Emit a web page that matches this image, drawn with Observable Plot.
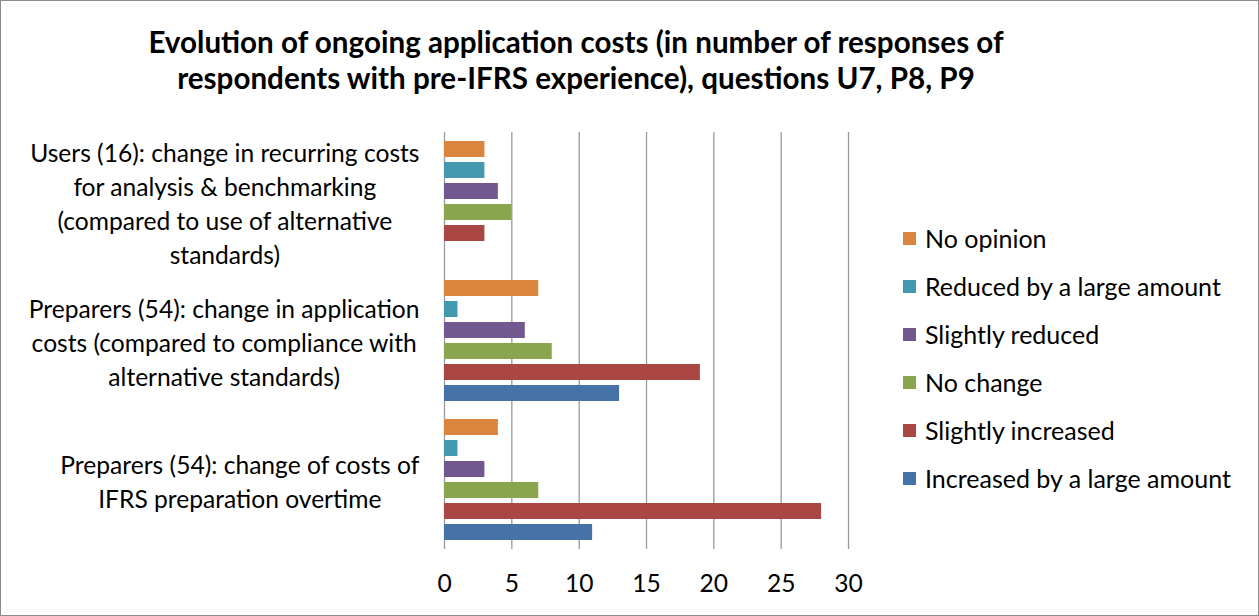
<!DOCTYPE html>
<html><head><meta charset="utf-8">
<script src="https://cdn.jsdelivr.net/npm/d3@7"></script>
<script src="https://cdn.jsdelivr.net/npm/@observablehq/plot@0.6"></script>
<style>
body{margin:0;background:#fff;}
#wrap{position:relative;width:1259px;height:616px;box-sizing:border-box;border:1px solid #8c8c8c;font-family:Lato,"Open Sans",sans-serif;color:#000;overflow:hidden;background:#fff}
#title{position:absolute;left:0;top:23px;width:1150px;text-align:center;font-weight:bold;line-height:36px;white-space:nowrap}
#chart{position:absolute;left:-1px;top:108px}
#legend{position:absolute;left:902px;top:213px}
.row{height:48px;display:flex;align-items:center;white-space:nowrap}
.sw{width:13px;height:13px;margin-right:9px;flex:none}
</style></head>
<body><div id="wrap"><div id="title"></div><div id="chart"></div><div id="legend"></div></div>
<script>
const titleLines = ["Evolution of ongoing application  costs (in number of responses of", "respondents with pre-IFRS experience), questions U7, P8, P9"];
const categories = [
  "Users (16): change in recurring costs\nfor analysis & benchmarking\n(compared to use of alternative\nstandards)",
  "Preparers (54): change in application\ncosts (compared to compliance with\nalternative standards)",
  "Preparers (54): change of costs of\nIFRS preparation overtime"
];
const series = ["No opinion", "Reduced by a large amount", "Slightly reduced", "No change", "Slightly increased", "Increased by a large amount"];
const colors = ["#DB843D", "#4198AF", "#71588F", "#89A54E", "#AA4643", "#4572A7"];
const usersValues = [3, 3, 4, 5, 3, 0];
const prepAppValues = [7, 1, 6, 8, 19, 13];
const prepIfrsValues = [4, 1, 3, 7, 28, 11];
const xTicks = [0, 5, 10, 15, 20, 25, 30];

const valueSets = [usersValues, prepAppValues, prepIfrsValues];
const data = [];
categories.forEach((c, i) => series.forEach((s, j) => data.push({category: c, series: s, value: valueSets[i][j]})));

// measure fonts
const ctx = document.createElement("canvas").getContext("2d");
const FAM = 'Lato, "Open Sans", sans-serif';
function w(text, size, weight) { ctx.font = `${weight||"normal"} ${size}px ${FAM}`; return ctx.measureText(text).width; }
const fs = Math.round(100 * 390 / w("Users (16): change in recurring costs", 100) * 10) / 10;
const tfs = Math.round(100 * 865 / w(titleLines[0], 100, "bold") * 10) / 10;
const lfs = Math.round(100 * 307 / w("Increased by a large amount", 100) * 10) / 10;

const title = document.getElementById("title");
title.style.fontSize = tfs + "px";
title.innerHTML = titleLines.join("<br>");

const legend = document.getElementById("legend");
legend.style.fontSize = lfs + "px";
series.forEach((s, j) => {
  const r = document.createElement("div"); r.className = "row";
  r.innerHTML = `<div class="sw" style="background:${colors[j]}"></div><span>${s}</span>`;
  legend.appendChild(r);
});

const labelMarks = categories.map(c => {
  const maxW = d3.max(c.split("\n"), l => w(l, fs));
  return Plot.text([c], {fy: d => d, text: d => d, frameAnchor: "left", textAnchor: "middle",
    dx: -25 - maxW / 2, fontSize: fs, lineHeight: 1.375, fill: "#000"});
});

const chart = Plot.plot({
  width: 880, height: 492,
  marginLeft: 444, marginRight: 32, marginTop: 22, marginBottom: 52,
  style: {fontFamily: FAM, fontSize: fs + "px", color: "#000", background: "transparent"},
  x: {domain: [0, 30], ticks: xTicks, tickSize: 0, tickPadding: 25, label: null},
  y: {domain: series, axis: null, paddingInner: 0.235, paddingOuter: 0.33},
  fy: {domain: categories, padding: 0, axis: null, label: null},
  color: {domain: series, range: colors},
  marks: [
    Plot.gridX(xTicks.filter(t => t > 0), {stroke: "#9a9a9a", strokeOpacity: 1, strokeWidth: 1.3}),
    Plot.ruleX([0], {stroke: "#9a9a9a", strokeWidth: 1.3}),
    Plot.barX(data, {x: "value", y: "series", fy: "category", fill: "series"}),
    ...labelMarks
  ]
});
document.getElementById("chart").appendChild(chart);
</script></body></html>
